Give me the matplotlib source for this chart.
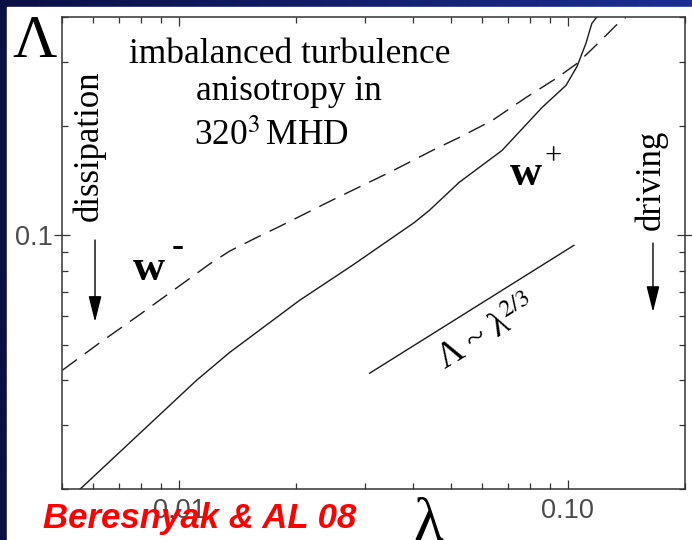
import numpy as np
import matplotlib.pyplot as plt
from matplotlib.patches import Rectangle
from matplotlib.colors import LinearSegmentedColormap
from matplotlib.ticker import LogLocator, NullFormatter

plt.rcParams['mathtext.fontset'] = 'stix'

# anisotropy Lambda vs scale lambda, log-log
lam_plus = [0.00557, 0.0111, 0.0135, 0.0204, 0.0279, 0.0403, 0.0440, 0.0525,
            0.0677, 0.0858, 0.0988, 0.1055, 0.1112, 0.1152, 0.1187]
anis_plus = [0.0200, 0.0399, 0.0476, 0.0662, 0.0827, 0.1086, 0.1172, 0.1400,
             0.1715, 0.2253, 0.259, 0.292, 0.338, 0.384, 0.400]

lam_minus = [0.00501, 0.00627, 0.00794, 0.01067, 0.0120, 0.01351, 0.0156,
             0.01815, 0.02468, 0.03517, 0.0448, 0.05254, 0.06386, 0.07804,
             0.09317, 0.1055, 0.1201, 0.1328, 0.1408]
anis_minus = [0.0425, 0.0507, 0.0606, 0.0762, 0.0835, 0.0906, 0.0979,
              0.1059, 0.1249, 0.1501, 0.1715, 0.1862, 0.2074, 0.2400,
              0.2707, 0.2978, 0.3402, 0.3789, 0.399]

# Lambda ~ lambda^(2/3) guide segment
lam_fit = [0.0309, 0.1036]
anis_fit = [0.0417, 0.0939]

x_ticks = [0.01, 0.1]
x_ticklabels = ['0.01', '0.10']
y_ticks = [0.1]
y_ticklabels = ['0.1']

W, H = 692, 540
fig = plt.figure(figsize=(W / 100, H / 100), dpi=100)

# slide background: blue gradient with white panel
bg = fig.add_axes([0, 0, 1, 1], zorder=-2)
grad = np.linspace(0, 1, 256).reshape(1, -1)
cmap = LinearSegmentedColormap.from_list('slide', ['#0a0f44', '#1c2f92'])
bg.imshow(grad, aspect='auto', cmap=cmap, extent=[0, 1, 0, 1])
bg.add_patch(Rectangle((7 / W, 0), 1, (H - 7) / H, color='white'))
bg.set_xlim(0, 1)
bg.set_ylim(0, 1)
bg.axis('off')

ax = fig.add_axes([62 / W, 51 / H, 623 / W, 472 / H])
ax.set_facecolor('white')
ax.set_xscale('log')
ax.set_yscale('log')
ax.set_xlim(0.005, 0.2)
ax.set_ylim(0.02, 0.4)

ax.plot(lam_plus, anis_plus, color='#1a1a1a', lw=1.0, solid_joinstyle='round')
ax.plot(lam_minus, anis_minus, color='#1a1a1a', lw=1.0, dashes=(13, 7))
ax.plot(lam_fit, anis_fit, color='#1a1a1a', lw=1.0)

ax.set_xticks(x_ticks, x_ticklabels)
ax.set_yticks(y_ticks, y_ticklabels)
ax.xaxis.set_minor_locator(LogLocator(base=10, subs=np.arange(2, 10)))
ax.yaxis.set_minor_locator(LogLocator(base=10, subs=np.arange(2, 10)))
ax.xaxis.set_minor_formatter(NullFormatter())
ax.yaxis.set_minor_formatter(NullFormatter())

for lab in ax.get_xticklabels() + ax.get_yticklabels():
    lab.set_fontfamily('Liberation Sans')
    lab.set_fontsize(19.5)
    lab.set_color('#4a4a4a')

ax.tick_params(which='both', top=True, right=True, color='#333333', width=0.9)
ax.tick_params(axis='x', which='major', direction='in', length=6.5, pad=6.5)
ax.tick_params(axis='y', which='major', direction='inout', length=12, pad=0.5)
ax.tick_params(which='minor', direction='in', length=4)
for s in ax.spines.values():
    s.set_linewidth(1.1)
    s.set_color('#333333')

serif = 'Liberation Serif'
ax.text(0.366, 0.9025, 'imbalanced turbulence', transform=ax.transAxes,
        ha='center', va='baseline', family=serif, fontsize=25.5)
ax.text(0.364, 0.824, 'anisotropy in', transform=ax.transAxes,
        ha='center', va='baseline', family=serif, fontsize=25.5)
ax.text(0.337, 0.729, r'320$^{3}\,$MHD', transform=ax.transAxes,
        ha='center', va='baseline', family=serif, fontsize=25.5)

ax.text(0.0433, 0.727, 'dissipation', transform=ax.transAxes, rotation=90,
        ha='center', va='center', family=serif, fontsize=25)
ax.text(0.945, 0.655, 'driving', transform=ax.transAxes, rotation=90,
        ha='center', va='center', family=serif, fontsize=25)

arrow = dict(arrowstyle='-|>,head_length=0.8,head_width=0.2', color='black',
             lw=1.0, mutation_scale=20, shrinkA=0, shrinkB=0)
ax.annotate('', xy=(0.053, 0.354), xytext=(0.053, 0.5275),
            xycoords='axes fraction', arrowprops=arrow)
ax.annotate('', xy=(0.9486, 0.375), xytext=(0.9486, 0.521),
            xycoords='axes fraction', arrowprops=arrow)

# branch labels
ax.text(0.1396, 0.4428, 'w', transform=ax.transAxes, ha='center',
        va='baseline', family=serif, fontweight='bold', fontsize=32)
ax.text(0.1862, 0.4935, '-', transform=ax.transAxes, ha='center',
        va='baseline', family=serif, fontweight='bold', fontsize=26)
ax.text(0.7448, 0.644, 'w', transform=ax.transAxes, ha='center',
        va='baseline', family=serif, fontweight='bold', fontsize=32)
ax.text(0.789, 0.6875, '+', transform=ax.transAxes, ha='center',
        va='baseline', family=serif, fontsize=22)

ax.text(0.683, 0.328, 'Λ ~ λ$^{2/3}$', transform=ax.transAxes, rotation=31,
        ha='center', va='center', family=serif, fontsize=25)

# axis symbols
fig.text(35 / W, 1 - 42 / H, 'Λ', ha='center', va='center', family=serif,
         fontsize=44)
fig.text(428 / W, 1 - 497 / H, 'λ', ha='center', va='top', family=serif,
         fontsize=44)

fig.text(43 / W, 12 / H, 'Beresnyak & AL 08', ha='left', va='baseline',
         family='Liberation Sans', fontweight='bold', fontstyle='italic',
         fontsize=25, color='#ff0000', zorder=10)

fig.savefig('out.png', dpi=100)
